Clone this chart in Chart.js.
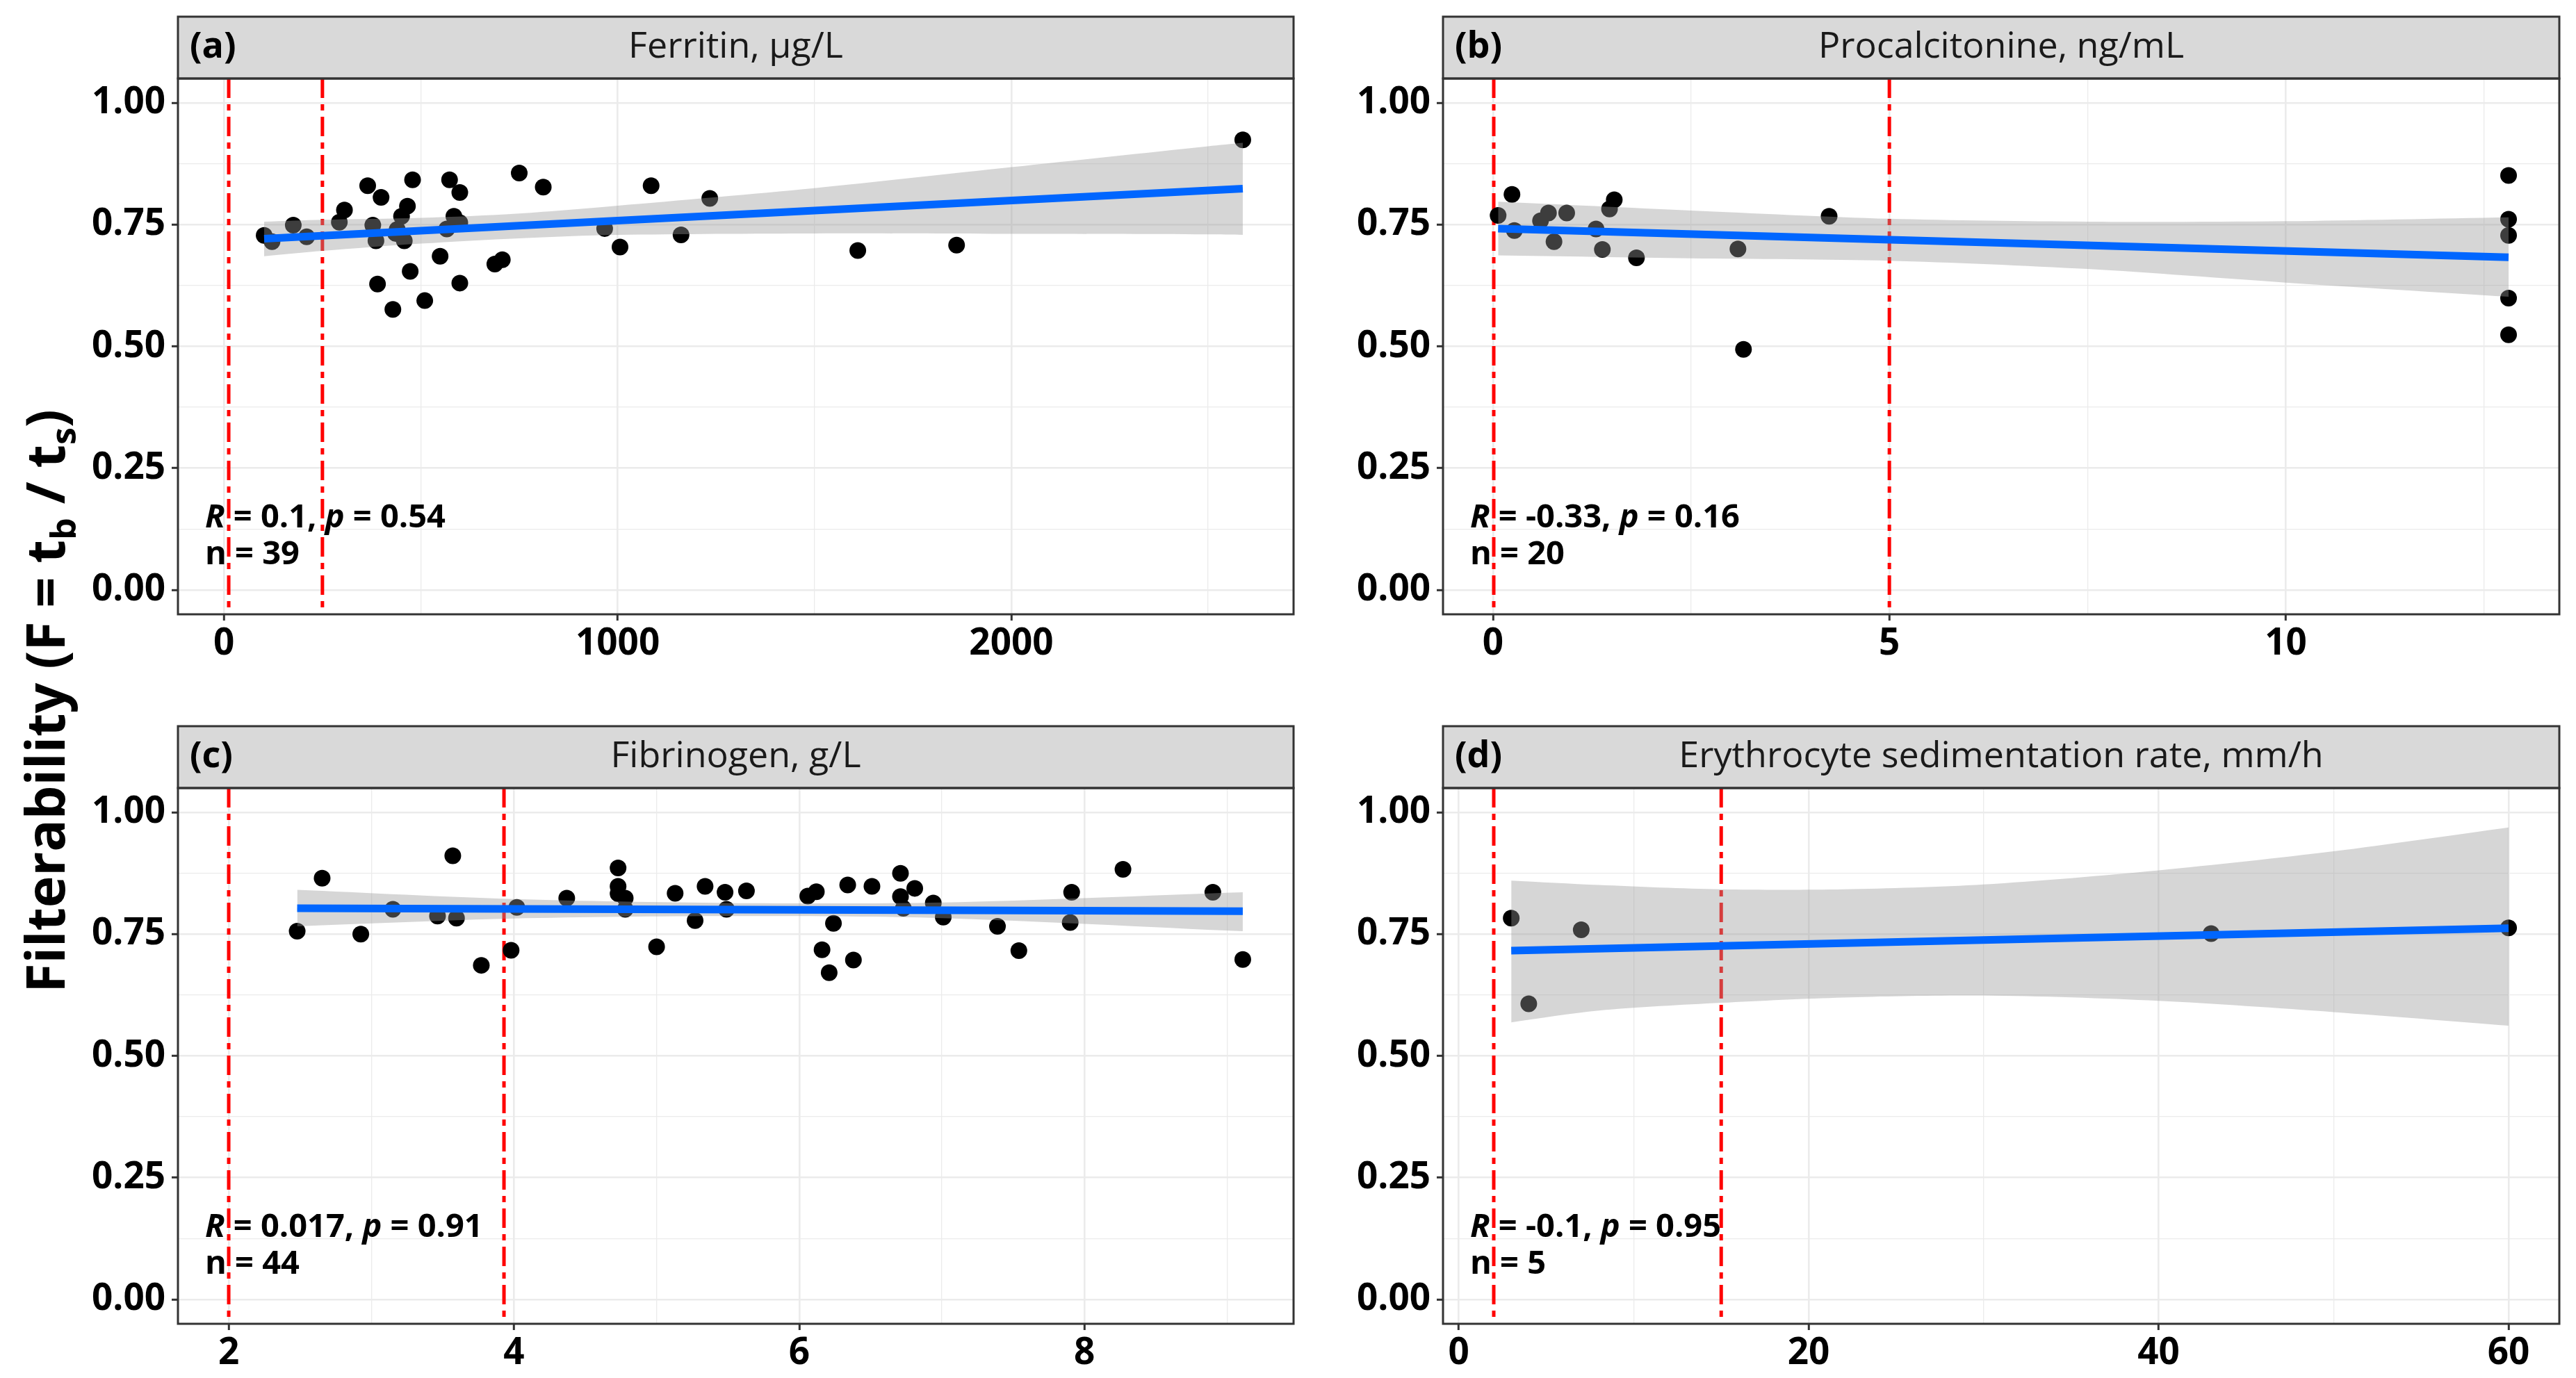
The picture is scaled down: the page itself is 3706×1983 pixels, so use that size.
<!DOCTYPE html>
<html>
<head>
<meta charset="utf-8">
<script src="https://cdn.jsdelivr.net/npm/chart.js@4.4.1/dist/chart.umd.min.js"></script>
<style>
  html, body { margin: 0; padding: 0; background: #fff; }
  body { width: 3706px; height: 1983px; position: relative; overflow: hidden; }
  canvas { position: absolute; }
</style>
</head>
<body>
<canvas id="ytitle" width="170" height="1983" style="left:0;top:0;z-index:5"></canvas>
<canvas id="pa"></canvas>
<canvas id="pb"></canvas>
<canvas id="pc"></canvas>
<canvas id="pd"></canvas>
<script>
// ---- data ----
const yTicks = [0, 0.25, 0.5, 0.75, 1];
const yMinor = [0.125, 0.375, 0.625, 0.875];

// (a) Ferritin
const ferritinX = [102, 122, 176, 210, 293, 306, 365, 378, 386, 390, 399, 429, 451, 440, 458, 466, 473, 479, 510, 549,
                   566, 573, 584, 599, 599, 599, 688, 707, 750, 811, 967, 1006, 1085, 1161, 1234, 1610, 1861, 2588, 436];
const ferritinY = [0.728, 0.715, 0.749, 0.725, 0.755, 0.780, 0.830, 0.749, 0.717, 0.628, 0.806, 0.576, 0.767, 0.740, 0.717, 0.788, 0.654, 0.842, 0.594, 0.685,
                   0.741, 0.842, 0.767, 0.816, 0.754, 0.630, 0.669, 0.678, 0.856, 0.827, 0.742, 0.704, 0.830, 0.729, 0.804, 0.697, 0.708, 0.924, 0.732];
const ferritinFitX = [102, 2588];
const ferritinFitY = [0.721, 0.824];
const ferritinBandX = [102, 250, 500, 750, 1000, 1500, 2000, 2500, 2588];
const ferritinBandLo = [0.685, 0.696, 0.711, 0.722, 0.729, 0.732, 0.731, 0.730, 0.729];
const ferritinBandHi = [0.756, 0.760, 0.764, 0.773, 0.789, 0.825, 0.868, 0.911, 0.918];
const ferritinCut = [12, 250];
const ferritinTicks = [0, 1000, 2000];
const ferritinMinor = [500, 1500, 2500];

// (b) Procalcitonine
const pctX = [0.065, 0.24, 0.27, 0.60, 0.70, 0.77, 0.93, 1.30, 1.38, 1.47, 1.53, 1.81, 3.09, 3.16, 4.24, 12.81, 12.81, 12.81, 12.81, 12.81];
const pctY = [0.769, 0.812, 0.738, 0.758, 0.774, 0.715, 0.774, 0.741, 0.699, 0.782, 0.801, 0.682, 0.700, 0.494, 0.767, 0.851, 0.761, 0.728, 0.599, 0.524];
const pctFitX = [0.065, 12.81];
const pctFitY = [0.742, 0.683];
const pctBandX = [0.065, 2.5, 5, 7.5, 10, 12.81];
const pctBandLo = [0.687, 0.681, 0.676, 0.659, 0.631, 0.602];
const pctBandHi = [0.797, 0.779, 0.762, 0.756, 0.757, 0.765];
const pctCut = [0.01, 5];
const pctTicks = [0, 5, 10];
const pctMinor = [2.5, 7.5, 12.5];

// (c) Fibrinogen
const fibX = [2.48, 2.655, 2.926, 3.151, 3.464, 3.571, 3.597, 3.771, 3.98, 4.02, 4.37, 4.73, 4.73, 4.73, 4.78, 4.78, 5.00, 5.13, 5.27, 5.34, 5.48, 5.49,
              5.63, 6.06, 6.12, 6.16, 6.21, 6.24, 6.34, 6.38, 6.51, 6.71, 6.71, 6.73, 6.81, 6.94, 7.01, 7.39, 7.54, 7.90, 7.91, 8.27, 8.90, 9.11];
const fibY = [0.756, 0.865, 0.750, 0.801, 0.787, 0.911, 0.783, 0.686, 0.717, 0.805, 0.824, 0.886, 0.848, 0.833, 0.801, 0.824, 0.724, 0.834, 0.778, 0.848, 0.836, 0.801,
              0.839, 0.828, 0.837, 0.718, 0.671, 0.772, 0.851, 0.697, 0.848, 0.875, 0.827, 0.803, 0.844, 0.814, 0.785, 0.766, 0.716, 0.774, 0.836, 0.883, 0.836, 0.698];
const fibFitX = [2.48, 9.11];
const fibFitY = [0.803, 0.797];
const fibBandX = [2.48, 4, 5.5, 7, 9.11];
const fibBandLo = [0.766, 0.782, 0.787, 0.783, 0.756];
const fibBandHi = [0.841, 0.822, 0.814, 0.815, 0.836];
const fibCut = [2, 3.93];
const fibTicks = [2, 4, 6, 8];
const fibMinor = [3, 5, 7, 9];

// (d) ESR
const esrX = [3, 4, 7, 43, 60];
const esrY = [0.783, 0.607, 0.759, 0.751, 0.763];
const esrFitX = [3, 60];
const esrFitY = [0.716, 0.762];
const esrBandX = [3, 8, 15, 22, 30, 40, 50, 60];
const esrBandLo = [0.569, 0.593, 0.609, 0.620, 0.624, 0.613, 0.590, 0.562];
const esrBandHi = [0.860, 0.851, 0.842, 0.842, 0.852, 0.881, 0.920, 0.969];
const esrCut = [2, 15];
const esrTicks = [0, 20, 40, 60];
const esrMinor = [10, 30, 50];

const statR = ['0.1', '-0.33', '0.017', '-0.1'];
const statP = ['0.54', '0.16', '0.91', '0.95'];
const statN = ['39', '20', '44', '5'];

// ---- layout ----
const FONT = '"Open Sans", "DejaVu Sans", sans-serif';
const LEFT_W = 150, RIGHT_PAD = 20, TOP_PAD = 10, STRIP_H = 89, BOTTOM_H = 95;

const panels = [
  { id: 'pa', L: 256, R: 1861, stripTop: 24, bottom: 884, tag: '(a)', title: 'Ferritin, µg/L',
    xs: ferritinX, ys: ferritinY, fx: ferritinFitX, fy: ferritinFitY, bx: ferritinBandX, lo: ferritinBandLo, hi: ferritinBandHi,
    cut: ferritinCut, ticks: ferritinTicks, minor: ferritinMinor, xMin: -117, xMax: 2717, k: 0 },
  { id: 'pb', L: 2076, R: 3682, stripTop: 24, bottom: 884, tag: '(b)', title: 'Procalcitonine, ng/mL',
    xs: pctX, ys: pctY, fx: pctFitX, fy: pctFitY, bx: pctBandX, lo: pctBandLo, hi: pctBandHi,
    cut: pctCut, ticks: pctTicks, minor: pctMinor, xMin: -0.63, xMax: 13.45, k: 1 },
  { id: 'pc', L: 256, R: 1861, stripTop: 1045, bottom: 1905, tag: '(c)', title: 'Fibrinogen, g/L',
    xs: fibX, ys: fibY, fx: fibFitX, fy: fibFitY, bx: fibBandX, lo: fibBandLo, hi: fibBandHi,
    cut: fibCut, ticks: fibTicks, minor: fibMinor, xMin: 1.644, xMax: 9.466, k: 2 },
  { id: 'pd', L: 2076, R: 3682, stripTop: 1045, bottom: 1905, tag: '(d)', title: 'Erythrocyte sedimentation rate, mm/h',
    xs: esrX, ys: esrY, fx: esrFitX, fy: esrFitY, bx: esrBandX, lo: esrBandLo, hi: esrBandHi,
    cut: esrCut, ticks: esrTicks, minor: esrMinor, xMin: -0.9, xMax: 62.9, k: 3 }
];

function pts(xs, ys) { return xs.map((x, i) => ({ x: x, y: ys[i] })); }

function tickList(major, minor) {
  return major.map(v => ({ value: v, major: true }))
    .concat(minor.map(v => ({ value: v, major: false })))
    .sort((a, b) => a.value - b.value);
}

function drawRich(ctx, parts, x, y) {
  parts.forEach(([t, it]) => {
    ctx.font = (it ? 'italic ' : '') + 'bold 47px ' + FONT;
    ctx.fillText(t, x, y);
    x += ctx.measureText(t).width;
  });
}

function decoPlugin(p) {
  return {
    id: 'deco',
    beforeDatasetsDraw(chart) {
      const { ctx, chartArea: a, scales: { x, y } } = chart;
      ctx.save();
      ctx.fillStyle = '#000';
      ctx.textAlign = 'left';
      ctx.textBaseline = 'alphabetic';
      drawRich(ctx, [['R', true], [' = ' + statR[p.k] + ', ', false], ['p', true], [' = ' + statP[p.k], false]],
               a.left + 39, y.getPixelForValue(0.129));
      drawRich(ctx, [['n = ' + statN[p.k], false]], a.left + 39, y.getPixelForValue(0.053));
      ctx.beginPath();
      ctx.rect(a.left, a.top, a.right - a.left, a.bottom - a.top);
      ctx.clip();
      ctx.setLineDash([28, 9, 9, 9]);
      ctx.strokeStyle = '#FF0000';
      ctx.lineWidth = 5;
      p.cut.forEach(v => {
        const px = x.getPixelForValue(v);
        ctx.beginPath();
        ctx.moveTo(px, a.top);
        ctx.lineTo(px, a.bottom);
        ctx.stroke();
      });
      ctx.restore();
    },
    afterDraw(chart) {
      const { ctx, chartArea: a } = chart;
      ctx.save();
      // strip
      ctx.fillStyle = '#D9D9D9';
      ctx.fillRect(a.left, a.top - STRIP_H, a.right - a.left, STRIP_H);
      ctx.strokeStyle = '#333333';
      ctx.lineWidth = 3;
      ctx.strokeRect(a.left, a.top - STRIP_H, a.right - a.left, STRIP_H);
      ctx.fillStyle = '#1a1a1a';
      ctx.textBaseline = 'middle';
      ctx.font = '52px ' + FONT;
      ctx.textAlign = 'center';
      ctx.fillText(p.title, (a.left + a.right) / 2, a.top - STRIP_H / 2);
      ctx.fillStyle = '#000';
      ctx.font = 'bold 52px ' + FONT;
      ctx.textAlign = 'left';
      ctx.fillText(p.tag, a.left + 17, a.top - STRIP_H / 2);
      // panel border
      ctx.strokeRect(a.left, a.top, a.right - a.left, a.bottom - a.top);
      ctx.restore();
    }
  };
}

function gridOpts() {
  return {
    color: '#EBEBEB',
    lineWidth: c => (c.tick && c.tick.major ? 2.6 : 1.3),
    tickColor: c => (c.tick && c.tick.major ? '#333333' : 'rgba(0,0,0,0)'),
    tickWidth: 3,
    tickLength: 9,
    drawOnChartArea: true,
    drawTicks: true
  };
}

panels.forEach(p => {
  const cv = document.getElementById(p.id);
  const w = (p.R - p.L) + LEFT_W + RIGHT_PAD;
  const h = (p.bottom - p.stripTop) + TOP_PAD + BOTTOM_H;
  cv.width = w; cv.height = h;
  cv.style.width = w + 'px'; cv.style.height = h + 'px';
  cv.style.left = (p.L - LEFT_W) + 'px';
  cv.style.top = (p.stripTop - TOP_PAD) + 'px';

  new Chart(cv, {
    type: 'scatter',
    data: {
      datasets: [
        { type: 'line', data: pts(p.fx, p.fy), showLine: true, borderColor: '#0066FF', borderWidth: 11,
          pointRadius: 0, fill: false, order: 0 },
        { type: 'line', data: pts(p.bx, p.lo), showLine: true, borderColor: 'transparent', pointRadius: 0,
          fill: false, tension: 0.3, order: 1 },
        { type: 'line', data: pts(p.bx, p.hi), showLine: true, borderColor: 'transparent', pointRadius: 0,
          fill: '-1', backgroundColor: 'rgba(153,153,153,0.4)', tension: 0.3, order: 1 },
        { type: 'scatter', data: pts(p.xs, p.ys), backgroundColor: '#000000', borderWidth: 0,
          pointRadius: 12, pointHoverRadius: 12, order: 2 }
      ]
    },
    options: {
      responsive: false,
      animation: false,
      devicePixelRatio: 1,
      events: [],
      layout: { padding: { top: TOP_PAD + STRIP_H, right: RIGHT_PAD, bottom: 0, left: 0 } },
      plugins: { legend: { display: false }, tooltip: { enabled: false }, filler: { propagate: false } },
      scales: {
        x: {
          type: 'linear', min: p.xMin, max: p.xMax,
          afterBuildTicks: s => { s.ticks = tickList(p.ticks, p.minor); },
          afterFit: s => { s.height = BOTTOM_H; s.paddingLeft = 0; s.paddingRight = 0; },
          grid: gridOpts(),
          border: { display: false },
          ticks: {
            autoSkip: false, maxRotation: 0, padding: 2, color: '#000',
            font: { family: FONT, size: 53, weight: 'bold' },
            callback: v => (p.ticks.includes(v) ? String(v) : '')
          }
        },
        y: {
          type: 'linear', min: -0.05, max: 1.05,
          afterBuildTicks: s => { s.ticks = tickList(yTicks, yMinor); },
          afterFit: s => { s.width = LEFT_W; s.paddingTop = 0; s.paddingBottom = 0; },
          grid: gridOpts(),
          border: { display: false },
          ticks: {
            autoSkip: false, padding: 9, color: '#000',
            font: { family: FONT, size: 53, weight: 'bold' },
            callback: v => (yTicks.includes(v) ? v.toFixed(2) : '')
          }
        }
      }
    },
    plugins: [decoPlugin(p)]
  });
});

// y axis title
(function () {
  const ctx = document.getElementById('ytitle').getContext('2d');
  const big = 'bold 77px ' + FONT, small = 'bold 50px ' + FONT;
  const parts = [['Filterability (F = t', big, 0], ['b', small, 16], [' / t', big, 0], ['s', small, 16], [')', big, 0]];
  let total = 0;
  parts.forEach(([t, f]) => { ctx.font = f; total += ctx.measureText(t).width; });
  ctx.save();
  ctx.translate(93, 1009);
  ctx.rotate(-Math.PI / 2);
  ctx.fillStyle = '#000';
  ctx.textBaseline = 'alphabetic';
  let x = -total / 2;
  parts.forEach(([t, f, dy]) => {
    ctx.font = f;
    ctx.fillText(t, x, dy);
    x += ctx.measureText(t).width;
  });
  ctx.restore();
})();
</script>
</body>
</html>
